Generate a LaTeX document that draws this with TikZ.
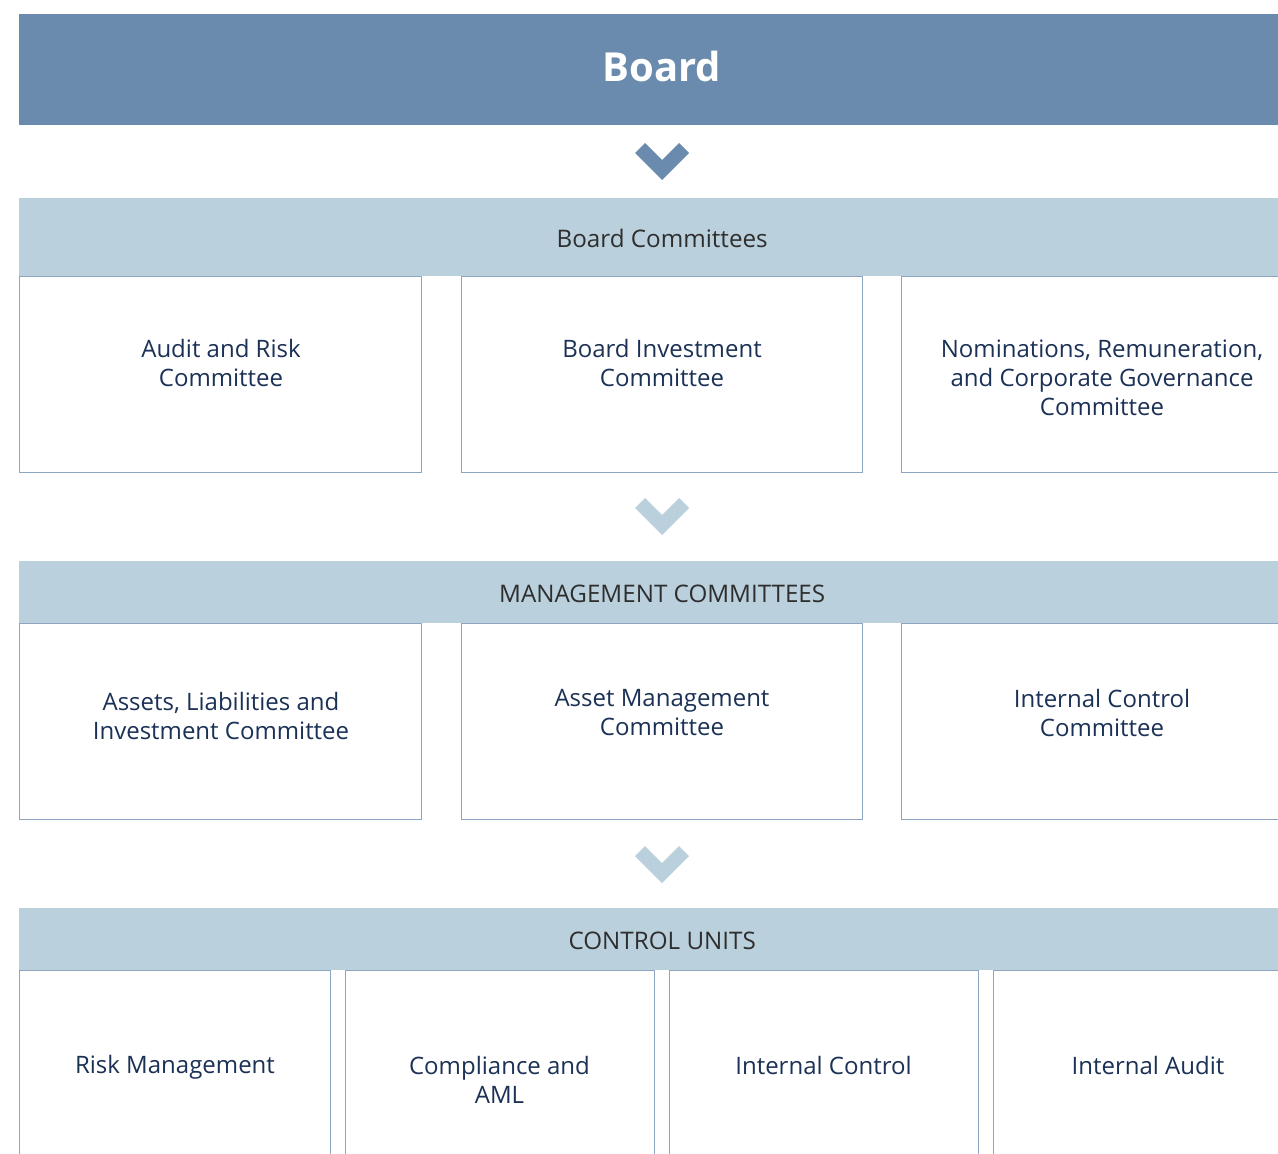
\documentclass[tikz,border=0pt]{standalone}
\usepackage{fontspec}
\setmainfont{Open Sans}
\definecolor{boardblue}{HTML}{6B8BAE}
\definecolor{lightbar}{HTML}{BAD0DD}
\definecolor{boxborder}{HTML}{8EA6C2}
\definecolor{navytext}{HTML}{1B3155}
\definecolor{graytext}{HTML}{2E2E2E}
\begin{document}
\begin{tikzpicture}[x=1pt,y=-1pt,
  boardbar/.style={fill=boardblue, draw=none, anchor=north west, inner sep=0pt,
    minimum width=1286pt, minimum height=111pt},
  boardtext/.style={text=white, inner sep=0pt,
    font=\fontsize{40}{48}\selectfont\bfseries},
  bar/.style={fill=lightbar, draw=none, anchor=north west, inner sep=0pt,
    minimum width=1286pt, text=graytext, text height=21pt, text depth=0pt,
    font=\fontsize{24.2}{29}\selectfont},
  cbox/.style={draw=boxborder, line width=1pt, fill=white, anchor=north west,
    inner sep=0pt, minimum height=196pt},
  wbox/.style={cbox, minimum width=402pt},
  nbox/.style={cbox, minimum width=310pt},
  boxtext/.style={text=navytext, align=center, inner sep=0pt,
    font=\fontsize{24}{29}\selectfont}
]
\useasboundingbox (0,0) rectangle (1278,1154);
\clip (0,0) rectangle (1278,1154);

% Board
\node[boardbar] (board) at (19,14) {};
\node[boardtext] (boardlbl) at (662,66) {Board};

% chevron 1
\coordinate (ch1) at (662,160);
\fill[boardblue] ([shift={(-27,-7)}]ch1) -- ([shift={(-17,-17)}]ch1) -- (ch1)
  -- ([shift={(17,-17)}]ch1) -- ([shift={(27,-7)}]ch1) -- ([shift={(0,20)}]ch1) -- cycle;

% Board committees
\node[bar, minimum height=78pt] (bc) at (19,198) {Board Committees};
\node[wbox] (b1) at (19,276) {};
\node[wbox, minimum width=401pt] (b2) at (461,276) {};
\node[wbox] (b3) at (901,276) {};
\node[boxtext] (t1) at (221,363) {Audit and Risk\\Committee};
\node[boxtext] (t2) at (662,363) {Board Investment\\Committee};
\node[boxtext] (t3) at (1102,378) {Nominations, Remuneration,\\and Corporate Governance\\Committee};

% chevron 2
\coordinate (ch2) at (662,515);
\fill[lightbar] ([shift={(-27,-7)}]ch2) -- ([shift={(-17,-17)}]ch2) -- (ch2)
  -- ([shift={(17,-17)}]ch2) -- ([shift={(27,-7)}]ch2) -- ([shift={(0,20)}]ch2) -- cycle;

% Management committees
\node[bar, minimum height=62pt] (mc) at (19,561) {MANAGEMENT COMMITTEES};
\node[wbox] (m1) at (19,623) {};
\node[wbox, minimum width=401pt] (m2) at (461,623) {};
\node[wbox] (m3) at (901,623) {};
\node[boxtext] (u1) at (221,716) {Assets, Liabilities and\\Investment Committee};
\node[boxtext] (u2) at (662,713) {Asset Management\\Committee};
\node[boxtext] (u3) at (1102,713) {Internal Control\\Committee};

% chevron 3
\coordinate (ch3) at (662,863);
\fill[lightbar] ([shift={(-27,-7)}]ch3) -- ([shift={(-17,-17)}]ch3) -- (ch3)
  -- ([shift={(17,-17)}]ch3) -- ([shift={(27,-7)}]ch3) -- ([shift={(0,20)}]ch3) -- cycle;

% Control units
\node[bar, minimum height=62pt] (cu) at (19,908) {CONTROL UNITS};
\node[nbox, minimum width=311pt] (c1) at (19,970) {};
\node[nbox, minimum width=309pt] (c2) at (345,970) {};
\node[nbox, minimum width=309pt] (c3) at (669,970) {};
\node[nbox] (c4) at (993,970) {};
\node[boxtext] (v1) at (175,1067) {Risk Management};
\node[boxtext] (v2) at (499.5,1080) {Compliance and\\AML};
\node[boxtext] (v3) at (823.5,1065) {Internal Control};
\node[boxtext] (v4) at (1148,1065) {Internal Audit};
\end{tikzpicture}
\end{document}
